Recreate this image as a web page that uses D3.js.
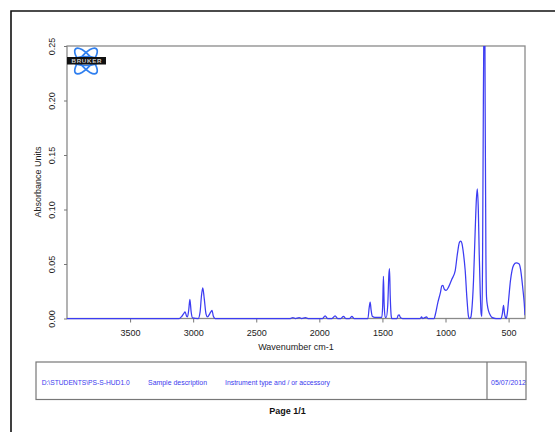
<!DOCTYPE html>
<html><head><meta charset="utf-8">
<script src="https://cdn.jsdelivr.net/npm/d3@7/dist/d3.min.js"></script>
<style>html,body{margin:0;padding:0;background:#fff;}svg{display:block;font-family:"Liberation Sans",Arial,sans-serif;}</style>
</head><body>
<svg id="c" width="555" height="432"></svg>
<script>
// ---- data ----
const wavenumbers = [4000,3110,3090,3075,3064,3052,3045,3035,3026,3016,3005,2960,2945,2935,2924,2912,2898,2887,2860,2850,2840,2826,
 2230,2210,2190,2160,2140,2110,2090,2000,1975,1954,1935,1900,1875,1855,1830,1809,1790,1760,1742,1725,
 1615,1605,1597,1590,1580,1560,1510,1505,1498,1492,1486,1478,1470,1458,1449,1444,1438,1430,1425,1385,1375,1367,1358,1340,
 1200,1190,1180,1165,1150,1140,1090,1082,1060,1040,1029,1021,1010,995,975,950,923,905,889,878,870,858,844,830,818,810,
 800,790,778,765,755,748,740,733,725,718,711,706,700,694,690,686,680,675,668,659,645,632,600,560,550,540,533,525,519,
 510,500,485,473,460,440,416,405,394,385,376,370];
const absorbance = [0,0,0.002,0.0045,0.006,0.002,0.0015,0.008,0.0175,0.006,0.0005,0,0.006,0.02,0.028,0.018,0.004,0.0015,0.006,0.0074,0.002,0,
 0,0.0008,0,0.0008,0,0.0008,0,0,0,0.0025,0,0,0.0025,0,0,0.002,0,0,0.002,0,
 0,0.010,0.015,0.008,0.002,0.001,0.001,0.001,0.012,0.0386,0.012,0.001,0.001,0.012,0.040,0.0457,0.02,0.002,0,0,0.003,0.0034,0.001,0,
 0,0.0015,0,0.0008,0.0015,0,0,0.003,0.015,0.024,0.030,0.0303,0.027,0.0257,0.029,0.036,0.044,0.060,0.070,0.071,0.069,0.060,0.044,0.018,0.002,0,
 0.001,0.010,0.035,0.080,0.110,0.119,0.100,0.060,0.025,0.005,0.002,0.06,0.20,0.30,0.32,0.20,0.06,0.02,0.012,0.007,0.003,0.001,0,0,0.004,0.012,0.005,0.001,0,
 0.005,0.017,0.035,0.044,0.049,0.051,0.050,0.045,0.035,0.025,0.014,0.003];
const xTicks = [3500,3000,2500,2000,1500,1000,500];
const yTicks = [0,0.05,0.10,0.15,0.20,0.25];
const footerTexts = ["D:\\STUDENTS\\PS-S-HUD1.0","Sample description","Instrument type and / or accessory","05/07/2012"];

const svg = d3.select("#c");
svg.append("rect").attr("width",555).attr("height",432).attr("fill","#fff");
// page border (left + top)
svg.append("path").attr("d","M11,432V11H555").attr("fill","none").attr("stroke","#111").attr("stroke-width",1.6);

const L=67,R=525,T=46,B=318.5;
const x = d3.scaleLinear().domain([4000,370]).range([L,R]);
const y = d3.scaleLinear().domain([0,0.25]).range([B,T]);

// frame
svg.append("rect").attr("x",L).attr("y",T).attr("width",R-L).attr("height",B-T)
  .attr("fill","none").attr("stroke","#8a8a8a").attr("stroke-width",1.3);

// x axis
const gx = svg.append("g").attr("transform",`translate(0,${B})`)
  .call(d3.axisBottom(x).tickValues(xTicks).tickSize(4).tickPadding(7).tickFormat(d3.format("d")));
gx.select(".domain").remove();
gx.selectAll("line").attr("stroke","#777");
gx.selectAll("text").attr("font-size",9).attr("fill","#222").attr("font-family","Liberation Sans, Arial, sans-serif");

// y axis
const gy = svg.append("g").attr("transform",`translate(${L},0)`)
  .call(d3.axisLeft(y).tickValues(yTicks).tickSize(3).tickFormat(d3.format(".2f")));
gy.select(".domain").remove();
gy.selectAll("line").attr("stroke","#777");
gy.selectAll("text").attr("font-size",9).attr("fill","#222")
  .attr("font-family","Liberation Sans, Arial, sans-serif")
  .attr("x",null).attr("dy",null).attr("text-anchor","middle")
  .attr("transform","translate(-12,0) rotate(-90)");

// titles
svg.append("text").attr("transform","translate(41,182) rotate(-90)").attr("text-anchor","middle")
  .attr("font-size",9).attr("fill","#222").text("Absorbance Units");
svg.append("text").attr("x",296).attr("y",350).attr("text-anchor","middle")
  .attr("font-size",9).attr("fill","#222").text("Wavenumber cm-1");

// spectrum
svg.append("clipPath").attr("id","clip").append("rect").attr("x",L).attr("y",T).attr("width",R-L).attr("height",B-T+2);
const pts = wavenumbers.map((w,i)=>[w,absorbance[i]]);
svg.append("path").datum(pts).attr("clip-path","url(#clip)")
  .attr("fill","none").attr("stroke","#3c3cf2").attr("stroke-width",1.25).attr("stroke-linejoin","round")
  .attr("d",d3.line().x(d=>x(d[0])).y(d=>y(d[1])).curve(d3.curveMonotoneX));

// logo
const lg = svg.append("g").attr("transform","translate(86,61)");
[[50,16,6],[-50,16,6],[0,13,4.5]].forEach(([a,rx,ry])=>{
  lg.append("ellipse").attr("rx",rx).attr("ry",ry).attr("transform",`rotate(${a})`)
    .attr("fill","none").attr("stroke","#2f7fef").attr("stroke-width",1.7);
});
lg.append("rect").attr("x",-19).attr("y",-4).attr("width",39).attr("height",7.5).attr("fill","#111");
lg.append("text").attr("x",0.5).attr("y",2.3).attr("text-anchor","middle").attr("font-size",6.2)
  .attr("font-weight","bold").attr("fill","#ccc").attr("textLength",30).text("BRUKER");

// footer box
svg.append("rect").attr("x",36).attr("y",362).attr("width",490).attr("height",37.5)
  .attr("fill","none").attr("stroke","#777").attr("stroke-width",1.2);
svg.append("line").attr("x1",487).attr("x2",487).attr("y1",362).attr("y2",399.5).attr("stroke","#777").attr("stroke-width",1.2);
const fpos = [[41.7,88],[148,59],[225,105],[491,35]];
footerTexts.forEach((t,i)=>{
  svg.append("text").attr("x",fpos[i][0]).attr("y",384.5).attr("font-size",6.6).attr("fill","#3a3aee")
    .attr("textLength",fpos[i][1]).attr("lengthAdjust","spacingAndGlyphs").text(t);
});
svg.append("text").attr("x",287.5).attr("y",413.5).attr("text-anchor","middle").attr("font-size",9)
  .attr("font-weight","bold").attr("fill","#111").text("Page 1/1");
</script>
</body></html>
